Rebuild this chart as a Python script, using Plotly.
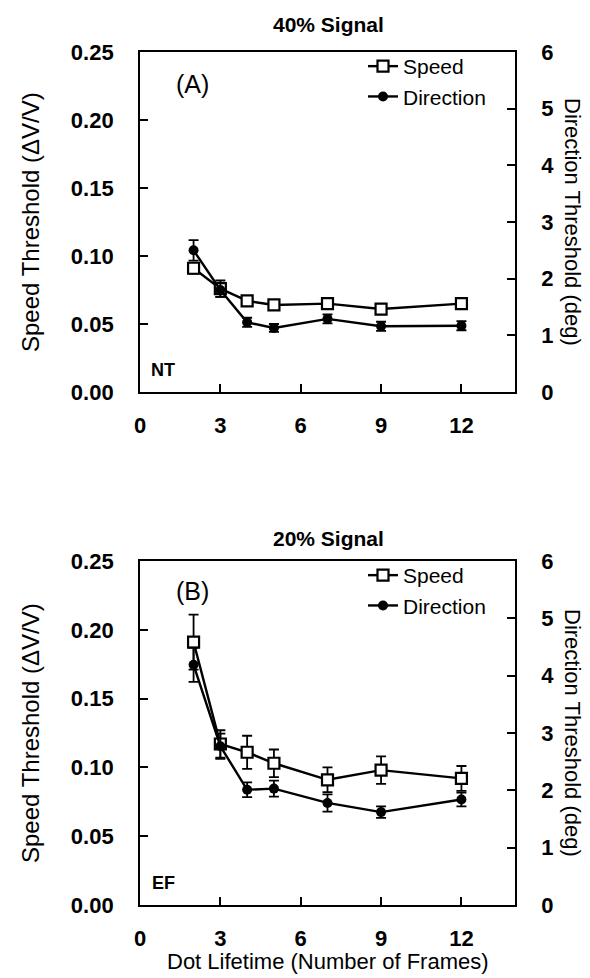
import plotly.graph_objects as go

# ---------------- data ----------------
frames = [2, 3, 4, 5, 7, 9, 12]

speed_40 = [0.091, 0.076, 0.067, 0.064, 0.065, 0.061, 0.065]
speed_40_err = [0.004, 0.006, 0.003, 0.002, 0.003, 0.002, 0.003]
dir_40 = [2.50, 1.80, 1.23, 1.13, 1.29, 1.16, 1.17]
dir_40_err = [0.18, 0.12, 0.08, 0.07, 0.08, 0.08, 0.08]

speed_20 = [0.191, 0.117, 0.111, 0.103, 0.091, 0.098, 0.092]
speed_20_err = [0.020, 0.010, 0.012, 0.010, 0.009, 0.010, 0.009]
dir_20 = [4.19, 2.77, 2.01, 2.03, 1.78, 1.62, 1.84]
dir_20_err = [0.30, 0.22, 0.13, 0.14, 0.15, 0.10, 0.12]

x_ticks = [0, 3, 6, 9, 12]
speed_ticks = [0.00, 0.05, 0.10, 0.15, 0.20, 0.25]
dir_ticks = [0, 1, 2, 3, 4, 5, 6]

W, H = 590, 978
FONT = "Liberation Sans, Arial, Helvetica, sans-serif"

def px_x(p):
    return p / W

def px_y(p):
    return 1 - p / H

fig = go.Figure()

def add_panel(speed, speed_err, direc, direc_err, xa, ya_left, ya_right, legend):
    err_style = dict(type="data", color="black", thickness=1.8, width=5)
    fig.add_trace(go.Scatter(
        x=frames, y=speed, name="Speed", mode="lines+markers",
        error_y=dict(array=speed_err, **err_style),
        line=dict(color="black", width=2.4),
        marker=dict(symbol="square", size=11, color="white",
                    line=dict(color="black", width=2.2)),
        xaxis=xa, yaxis=ya_left, legend=legend, legendrank=1,
    ))
    fig.add_trace(go.Scatter(
        x=frames, y=direc, name="Direction", mode="lines+markers",
        error_y=dict(array=direc_err, **err_style),
        line=dict(color="black", width=2.4),
        marker=dict(symbol="circle", size=10, color="black"),
        xaxis=xa, yaxis=ya_right, legend=legend, legendrank=2,
    ))

add_panel(speed_40, speed_40_err, dir_40, dir_40_err, "x", "y", "y2", "legend")
add_panel(speed_20, speed_20_err, dir_20, dir_20_err, "x2", "y3", "y4", "legend2")

TICKFONT = dict(family=FONT, size=22, color="black", weight="bold")

xcommon = dict(
    domain=[px_x(132), px_x(507)], range=[0, 14], tickvals=x_ticks,
    ticks="inside", ticklen=8, tickwidth=1.6, tickcolor="black",
    showline=True, linecolor="black", linewidth=1.8, mirror=True,
    showgrid=False, zeroline=False, tickfont=TICKFONT,
    ticklabelstandoff=13, automargin=False,
)
ylcommon = dict(
    range=[0, 0.25], tickvals=speed_ticks, tickformat=".2f",
    ticks="inside", ticklen=8, tickwidth=1.6, tickcolor="black",
    showline=True, linecolor="black", linewidth=1.8,
    showgrid=False, zeroline=False, tickfont=TICKFONT,
    ticklabelstandoff=20, automargin=False,
)
yrcommon = dict(
    range=[0, 6], tickvals=dir_ticks, side="right",
    ticks="inside", ticklen=8, tickwidth=1.6, tickcolor="black",
    showline=True, linecolor="black", linewidth=1.8,
    showgrid=False, zeroline=False, tickfont=TICKFONT,
    ticklabelstandoff=20, automargin=False,
)

top_dom = [px_y(384), px_y(44)]
bot_dom = [px_y(897), px_y(553)]

legend_common = dict(
    xanchor="left", yanchor="top", bgcolor="rgba(0,0,0,0)",
    font=dict(family=FONT, size=21, color="black"),
    itemwidth=30, tracegroupgap=0,
)

fig.update_layout(
    width=W, height=H,
    margin=dict(l=0, r=0, t=0, b=0),
    paper_bgcolor="white", plot_bgcolor="white",
    font=dict(family=FONT, color="black"),
    xaxis=dict(anchor="y", **xcommon),
    yaxis=dict(anchor="x", domain=top_dom, **ylcommon),
    yaxis2=dict(anchor="x", overlaying="y", **yrcommon),
    xaxis2=dict(anchor="y3", **xcommon),
    yaxis3=dict(anchor="x2", domain=bot_dom, **ylcommon),
    yaxis4=dict(anchor="x2", overlaying="y3", **yrcommon),
    legend=dict(x=px_x(355), y=px_y(38), **legend_common),
    legend2=dict(x=px_x(355), y=px_y(547), **legend_common),
    showlegend=True,
)

def txt(text, x, y, size, bold=False, angle=0):
    fig.add_annotation(
        text=f"<b>{text}</b>" if bold else text,
        x=px_x(x), y=px_y(y), xref="paper", yref="paper",
        xanchor="center", yanchor="middle", showarrow=False,
        textangle=angle, font=dict(family=FONT, size=size, color="black"),
    )

txt("40% Signal", 320, 17, 21, bold=True)
txt("20% Signal", 320, 530, 21, bold=True)
txt("(A)", 184, 76, 25)
txt("(B)", 184, 583, 25)
txt("NT", 155, 362, 18, bold=True)
txt("EF", 155, 875, 18, bold=True)
txt("Speed Threshold (ΔV/V)", 22, 214, 24, angle=-90)
txt("Speed Threshold (ΔV/V)", 22, 725, 24, angle=-90)
txt("Direction Threshold (deg)", 565, 214, 22, angle=90)
txt("Direction Threshold (deg)", 565, 725, 22, angle=90)
txt("Dot Lifetime (Number of Frames)", 320, 953, 22)

fig.write_html("out.html")
